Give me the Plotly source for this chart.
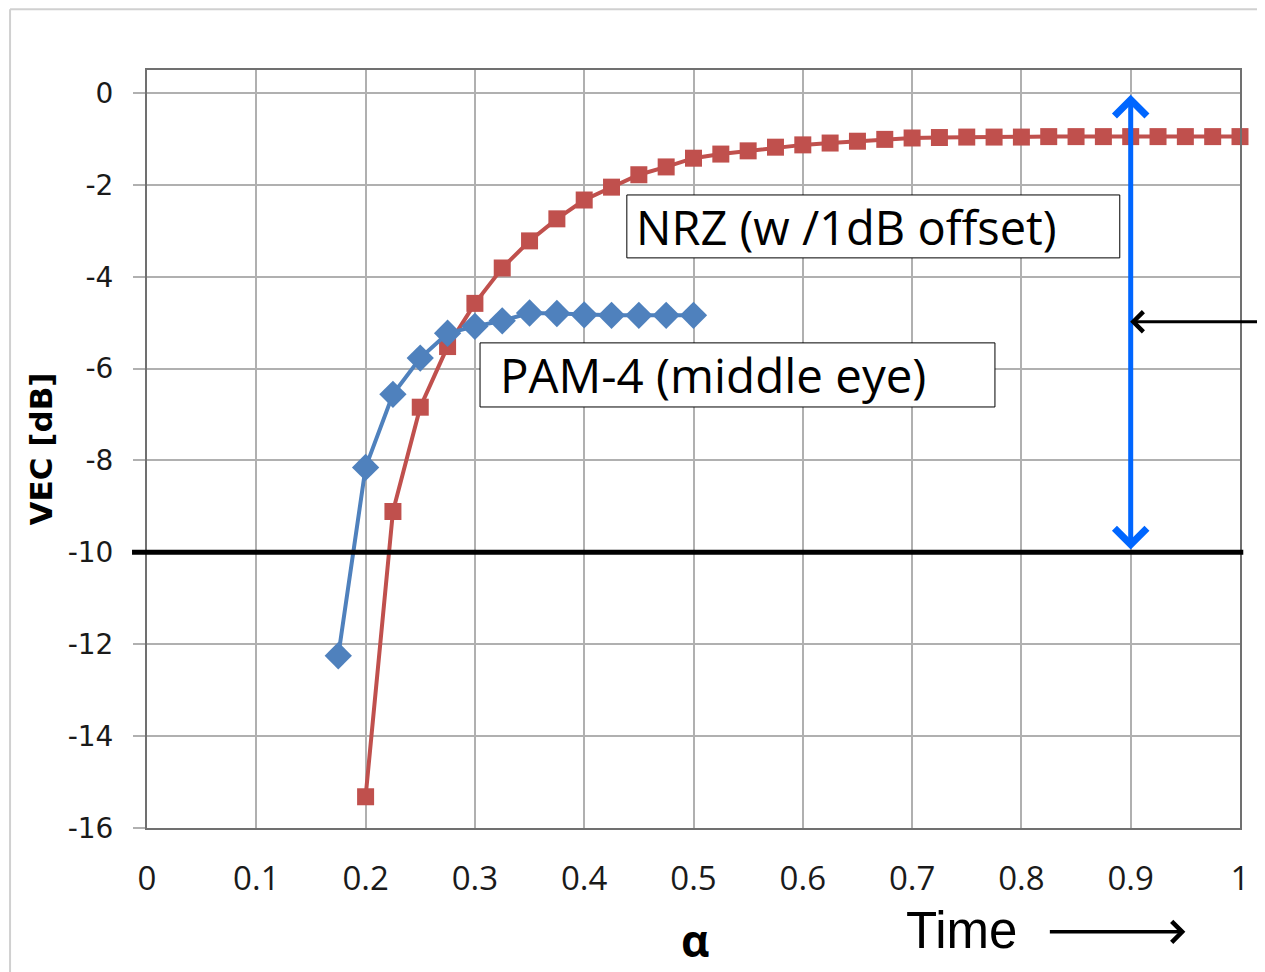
import plotly.graph_objects as go

# ---- data ----
pam4_alpha = [0.175, 0.2, 0.225, 0.25, 0.275, 0.3, 0.325, 0.35, 0.375, 0.4, 0.425, 0.45, 0.475, 0.5]
pam4_vec = [-12.25, -8.15, -6.56, -5.77, -5.23, -5.08, -4.96, -4.79, -4.80, -4.83, -4.84, -4.84, -4.84, -4.84]

nrz_alpha = [0.2, 0.225, 0.25, 0.275, 0.3, 0.325, 0.35, 0.375, 0.4, 0.425, 0.45, 0.475, 0.5,
             0.525, 0.55, 0.575, 0.6, 0.625, 0.65, 0.675, 0.7, 0.725, 0.75, 0.775, 0.8, 0.825,
             0.85, 0.875, 0.9, 0.925, 0.95, 0.975, 1.0]
nrz_vec = [-15.32, -9.11, -6.84, -5.52, -4.58, -3.81, -3.22, -2.74, -2.33, -2.05, -1.78, -1.61, -1.42,
           -1.33, -1.26, -1.18, -1.13, -1.09, -1.05, -1.01, -0.98, -0.97, -0.96, -0.96, -0.96, -0.95,
           -0.95, -0.95, -0.95, -0.95, -0.95, -0.95, -0.95]

x_ticks = [0, 0.1, 0.2, 0.3, 0.4, 0.5, 0.6, 0.7, 0.8, 0.9, 1]
x_tick_labels = ["0", "0.1", "0.2", "0.3", "0.4", "0.5", "0.6", "0.7", "0.8", "0.9", "1"]
y_ticks = [0, -2, -4, -6, -8, -10, -12, -14, -16]
y_tick_labels = ["0", "-2", "-4", "-6", "-8", "-10", "-12", "-14", "-16"]

threshold = -10
nrz_label = "NRZ (w /1dB offset)"
pam4_label = "PAM-4 (middle eye)"

RED = "#C0504D"
BLUE = "#4F81BD"
ARROW_BLUE = "#0066FF"

fig = go.Figure()
fig.add_trace(go.Scatter(
    x=nrz_alpha, y=nrz_vec, mode="lines+markers", name="NRZ",
    line=dict(color=RED, width=4),
    marker=dict(symbol="square", size=17, color=RED),
    cliponaxis=False,
))
fig.add_trace(go.Scatter(
    x=pam4_alpha, y=pam4_vec, mode="lines+markers", name="PAM-4",
    line=dict(color=BLUE, width=4),
    marker=dict(symbol="diamond", size=21, color=BLUE),
    cliponaxis=False,
))

fig.update_layout(
    width=1265, height=972,
    margin=dict(l=139, r=33, t=62, b=152),
    paper_bgcolor="white", plot_bgcolor="white",
    showlegend=False,
    xaxis=dict(
        range=[0, 1], tickvals=x_ticks, ticktext=x_tick_labels,
        showgrid=True, gridcolor="#b0b0b0", gridwidth=2,
        showline=True, linecolor="#707070", linewidth=2, mirror=True,
        ticks="", ticklabelstandoff=20,
        tickfont=dict(family="Open Sans", size=33, color="#1a1a1a"),
        zeroline=False,
    ),
    yaxis=dict(
        range=[-16, 0.5], tickvals=y_ticks, ticktext=y_tick_labels,
        showgrid=True, gridcolor="#b0b0b0", gridwidth=2,
        showline=True, linecolor="#707070", linewidth=2, mirror=True,
        ticks="outside", ticklen=12, tickwidth=2, tickcolor="#b0b0b0",
        ticklabelstandoff=14,
        tickfont=dict(family="DejaVu Sans", size=28, color="#1a1a1a"),
        zeroline=False,
        title=dict(text="VEC [dB]", font=dict(family="DejaVu Sans", size=31, color="black", weight="bold"),
                   standoff=6),
    ),
)

shapes = []
# outer chart frame (partial, cropped)
shapes.append(dict(type="line", xref="paper", yref="paper", x0=-0.1253, x1=1.05, y0=1.080, y1=1.080,
                   line=dict(color="#d0d0d0", width=2)))
shapes.append(dict(type="line", xref="paper", yref="paper", x0=-0.1253, x1=-0.1253, y0=1.080, y1=-0.2,
                   line=dict(color="#d0d0d0", width=2)))
# threshold line
shapes.append(dict(type="line", xref="paper", yref="y", x0=-0.0137, x1=1.003, y0=threshold, y1=threshold,
                   line=dict(color="black", width=5), layer="above"))
# label boxes
shapes.append(dict(type="rect", xref="x", yref="y", x0=0.439, x1=0.890, y0=-2.22, y1=-3.59,
                   fillcolor="white", line=dict(color="black", width=1), layer="above"))
shapes.append(dict(type="rect", xref="x", yref="y", x0=0.3047, x1=0.7758, y0=-5.44, y1=-6.835,
                   fillcolor="white", line=dict(color="black", width=1), layer="above"))
fig.update_layout(shapes=shapes)

ann = []
ann.append(dict(x=0.446, y=-2.92, xref="x", yref="y", text=nrz_label, showarrow=False,
                xanchor="left", yanchor="middle",
                font=dict(family="Open Sans", size=47, color="black")))
ann.append(dict(x=0.321, y=-6.12, xref="x", yref="y", text=pam4_label, showarrow=False,
                xanchor="left", yanchor="middle",
                font=dict(family="Open Sans", size=47.5, color="black")))
# blue double arrow
ann.append(dict(x=0.9, y=-0.04, xref="x", yref="y", ax=0.9, ay=-9.97, axref="x", ayref="y",
                text="", showarrow=True, arrowhead=4, startarrowhead=4, arrowside="end+start",
                arrowwidth=5, arrowsize=1.25, startarrowsize=1.25, arrowcolor=ARROW_BLUE))
# black pointer arrow
ann.append(dict(x=0.8995, y=-4.98, xref="x", yref="y", ax=1.04, ay=-4.98, axref="x", ayref="y",
                text="", showarrow=True, arrowhead=4, arrowwidth=3, arrowsize=1.3, arrowcolor="black"))
# alpha axis title
ann.append(dict(x=0.501, y=-0.1478, xref="paper", yref="paper", text="α", showarrow=False,
                xanchor="center", yanchor="middle",
                font=dict(family="Open Sans", size=44, color="black", weight="bold")))
# Time label and arrow
ann.append(dict(x=0.7455, y=-0.135, xref="paper", yref="paper", text="Time", showarrow=False,
                xanchor="center", yanchor="middle",
                font=dict(family="Liberation Sans", size=51, color="black")))
ann.append(dict(x=0.950, y=-0.137, xref="paper", yref="paper", ax=-137, ay=0,
                text="", showarrow=True, arrowhead=4, arrowwidth=3.5, arrowsize=1.15, arrowcolor="black"))
fig.update_layout(annotations=ann)

fig.write_html("out.html")
